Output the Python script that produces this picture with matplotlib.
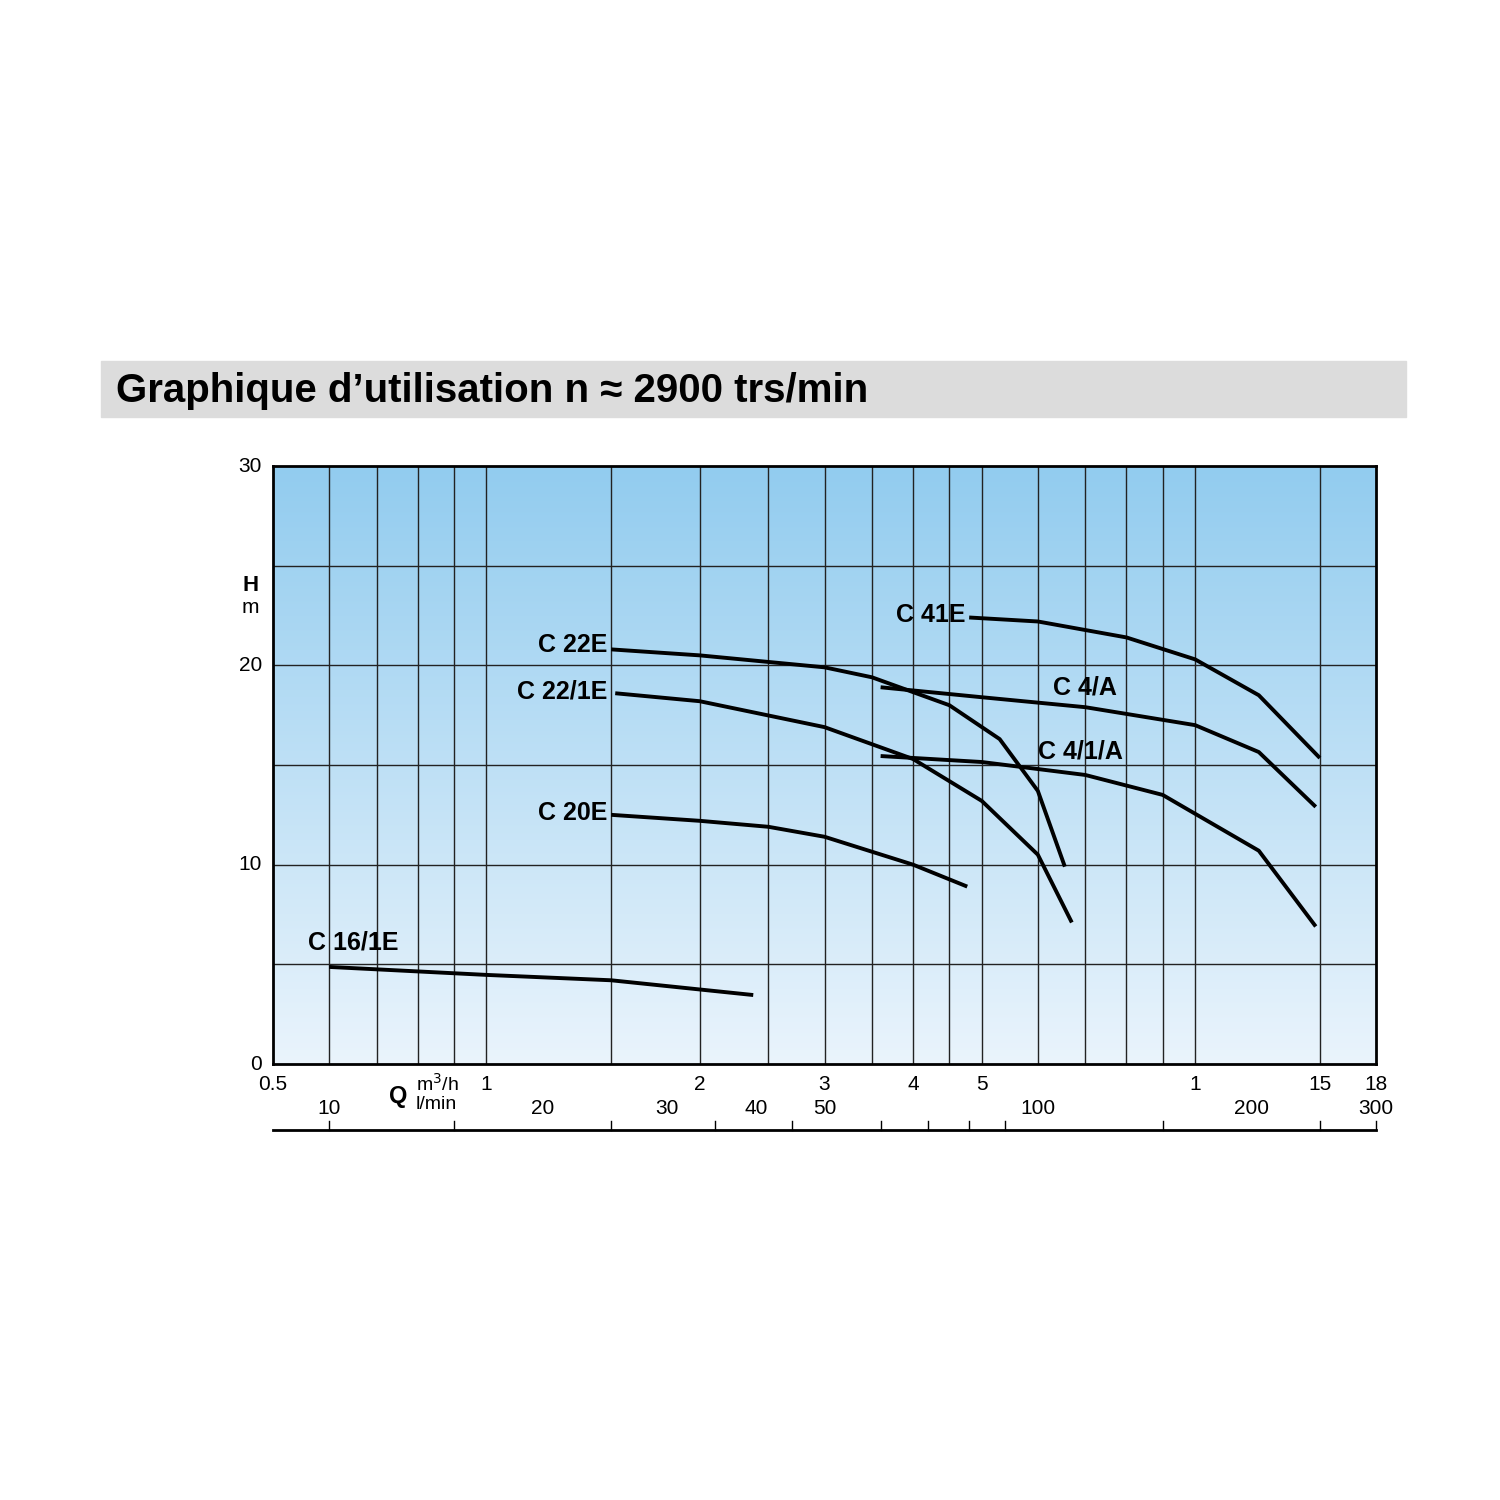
import numpy as np
import matplotlib.pyplot as plt
import matplotlib.transforms as mtransforms
from matplotlib.patches import Rectangle
from matplotlib.colors import LinearSegmentedColormap

# grid lines and tick labels (m3/h)
grid_q = [0.6, 0.7, 0.8, 0.9, 1, 1.5, 2, 2.5, 3, 3.5, 4, 4.5, 5, 6, 7, 8, 9, 10, 15]
q_labels = [0.5, 1, 2, 3, 4, 5, 10, 15, 18]
lmin_labels = [10, 20, 30, 40, 50, 100, 200, 300]
lmin_ticks = [10, 15, 25, 35, 45, 60, 70, 80, 90, 150, 250, 300]

# pump curves: Q (m3/h), H (m)
curves = {
    'C 22E':   ([1.5, 2, 3, 3.5, 4.5, 5.3, 6, 6.55],
                [20.8, 20.5, 19.9, 19.4, 18.0, 16.3, 13.7, 9.9]),
    'C 22/1E': ([1.52, 2, 3, 4, 5, 6, 6.7],
                [18.6, 18.2, 16.9, 15.3, 13.2, 10.5, 7.1]),
    'C 20E':   ([1.5, 2, 2.5, 3, 4, 4.77],
                [12.5, 12.2, 11.9, 11.4, 10.0, 8.9]),
    'C 16/1E': ([0.6, 1, 1.5, 2.38],
                [4.87, 4.47, 4.2, 3.46]),
    'C 41E':   ([4.8, 6, 8, 10, 12.3, 15],
                [22.4, 22.2, 21.4, 20.3, 18.5, 15.35]),
    'C 4/A':   ([3.6, 5, 7, 10, 12.3, 14.8],
                [18.9, 18.4, 17.9, 17.0, 15.65, 12.9]),
    'C 4/1/A': ([3.6, 5, 7, 9, 12.3, 14.8],
                [15.45, 15.15, 14.5, 13.5, 10.7, 6.9]),
}
# label anchors (Q, H, ha)
labels = {
    'C 22E': (1.48, 21.0, 'right'),
    'C 22/1E': (1.48, 18.7, 'right'),
    'C 20E': (1.48, 12.6, 'right'),
    'C 16/1E': (0.56, 6.1, 'left'),
    'C 41E': (4.75, 22.5, 'right'),
    'C 4/A': (6.3, 18.9, 'left'),
    'C 4/1/A': (6.0, 15.7, 'left'),
}

fig = plt.figure(figsize=(15, 15), dpi=100)
plt.rcParams['font.family'] = ['Liberation Sans', 'DejaVu Sans']

# title band
fig.patches.append(Rectangle((101 / 1500, 1 - 417 / 1500), 1305 / 1500, 56 / 1500,
                             transform=fig.transFigure, color='#dcdcdc', zorder=0))
fig.text(116 / 1500, 1 - 391 / 1500, 'Graphique d\u2019utilisation n \u2248 2900 trs/min',
         fontsize=29, fontweight='bold', va='center', ha='left')

ax = fig.add_axes([273 / 1500, 1 - 1064 / 1500, 1103 / 1500, 598 / 1500])
ax.set_xscale('log')
ax.set_xlim(0.5, 18)
ax.set_ylim(0, 30)

cmap = LinearSegmentedColormap.from_list('bg', ['#eaf4fc', '#92ccef'])
ax.imshow(np.linspace(0, 1, 256).reshape(-1, 1), cmap=cmap, aspect='auto',
          extent=[0, 1, 0, 1], origin='lower', transform=ax.transAxes, zorder=0)

for q in grid_q:
    ax.axvline(q, color='#222222', lw=1, zorder=1)
for h in [5, 10, 15, 20, 25]:
    ax.axhline(h, color='#222222', lw=1, zorder=1)

for name, (q, h) in curves.items():
    ax.plot(q, h, color='black', lw=2.8, zorder=3, solid_capstyle='butt')
    lx, ly, ha = labels[name]
    ax.text(lx, ly, name, fontsize=18, fontweight='bold', ha=ha, va='center', zorder=4)

ax.set_xticks([])
ax.set_yticks([])
ax.minorticks_off()
for s in ax.spines.values():
    s.set_linewidth(2)

trans = mtransforms.blended_transform_factory(ax.transData, ax.transAxes)
for h in [0, 10, 20, 30]:
    ax.text(0.5 * 0.965, h, str(h), fontsize=15, ha='right', va='center')
ax.text(0.5 * 0.955, 24.0, 'H', fontsize=16, fontweight='bold', ha='right', va='center')
ax.text(0.5 * 0.955, 22.9, 'm', fontsize=15, ha='right', va='center')

for q in q_labels:
    ax.text(q, -0.035, str(q).rstrip('0').rstrip('.') if q != 0.5 else '0.5',
            transform=trans, fontsize=15, ha='center', va='center')
for l in lmin_labels:
    ax.text(l * 0.06, -0.075, str(l), transform=trans, fontsize=15, ha='center', va='center')
ax.text(0.75, -0.055, 'Q', transform=trans, fontsize=17, fontweight='bold', ha='center', va='center')
ax.text(0.795, -0.033, 'm$^3$/h', transform=trans, fontsize=14, ha='left', va='center')
ax.text(0.795, -0.068, 'l/min', transform=trans, fontsize=14, ha='left', va='center')

ax.plot([0.5, 18], [-0.111, -0.111], transform=trans, color='black', lw=2, clip_on=False)
for l in lmin_ticks:
    ax.plot([l * 0.06, l * 0.06], [-0.111, -0.095], transform=trans, color='black',
            lw=1, clip_on=False)

fig.savefig('out.png', dpi=100)
